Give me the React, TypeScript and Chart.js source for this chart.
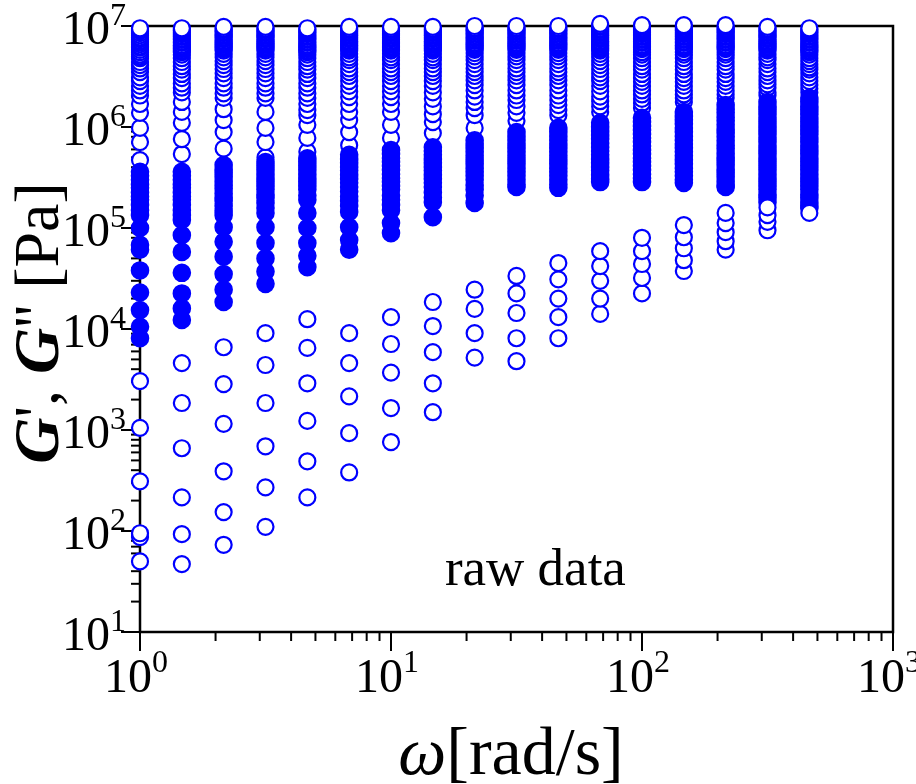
import React, { useEffect, useRef } from 'react';
import { Chart, registerables } from 'chart.js';

Chart.register(...registerables);

// angular frequency of each frequency-sweep column [rad/s]
const omega = [1, 1.468, 2.154, 3.162, 4.642, 6.813, 10, 14.68, 21.54, 31.62, 46.42, 68.13, 100, 146.8, 215.4, 316.2, 464.2];

// G' (open circles), upper branch, one list per omega column [Pa]
const storageHigh: number[][] = [
  [9.5e6, 9.2e6, 8.9e6, 8.5e6, 8.1e6, 7.7e6, 7.4e6, 7.1e6, 6.9e6, 6.6e6, 6.3e6, 6.1e6, 5.8e6, 5.5e6, 5.2e6, 5.0e6, 4.8e6, 4.4e6, 4.1e6, 3.8e6, 3.5e6, 3.1e6, 2.85e6, 2.55e6, 2.3e6, 2.05e6, 1.69e6, 1.38e6, 9.8e5, 7.1e5, 4.7e5],
  [9.5e6, 9.2e6, 8.9e6, 8.6e6, 8.3e6, 8.0e6, 7.8e6, 7.5e6, 7.3e6, 7.0e6, 6.8e6, 6.5e6, 6.3e6, 6.1e6, 5.9e6, 5.7e6, 5.5e6, 5.2e6, 4.8e6, 4.4e6, 4.0e6, 3.7e6, 3.35e6, 3.05e6, 2.7e6, 2.45e6, 2.2e6, 1.77e6, 1.41e6, 1.1e6, 7.6e5, 5.4e5],
  [9.8e6, 9.4e6, 9.1e6, 8.8e6, 8.5e6, 8.2e6, 8.0e6, 7.7e6, 7.4e6, 7.1e6, 6.9e6, 6.7e6, 6.5e6, 6.3e6, 6.1e6, 5.9e6, 5.7e6, 5.3e6, 4.9e6, 4.5e6, 4.1e6, 3.75e6, 3.4e6, 3.05e6, 2.7e6, 2.45e6, 2.15e6, 1.94e6, 1.5e6, 1.17e6, 8.9e5, 6.1e5],
  [9.8e6, 9.4e6, 9.1e6, 8.8e6, 8.5e6, 8.2e6, 8.0e6, 7.7e6, 7.4e6, 7.1e6, 6.9e6, 6.7e6, 6.5e6, 6.3e6, 6.1e6, 5.9e6, 5.7e6, 5.3e6, 4.9e6, 4.5e6, 4.1e6, 3.75e6, 3.4e6, 3.05e6, 2.7e6, 2.45e6, 2.15e6, 1.94e6, 1.41e6, 9.8e5, 7.1e5, 5.0e5],
  [9.5e6, 9.2e6, 8.9e6, 8.6e6, 8.3e6, 8.0e6, 7.8e6, 7.5e6, 7.3e6, 7.0e6, 6.8e6, 6.5e6, 6.3e6, 6.1e6, 5.9e6, 5.7e6, 5.5e6, 5.2e6, 4.8e6, 4.4e6, 4.0e6, 3.7e6, 3.35e6, 3.05e6, 2.7e6, 2.45e6, 2.15e6, 1.94e6, 1.69e6, 1.47e6, 1.31e6, 1.05e6, 7.8e5, 5.7e5],
  [9.8e6, 9.4e6, 9.1e6, 8.8e6, 8.5e6, 8.2e6, 8.0e6, 7.7e6, 7.4e6, 7.1e6, 6.9e6, 6.7e6, 6.5e6, 6.3e6, 6.1e6, 5.9e6, 5.7e6, 5.3e6, 4.9e6, 4.6e6, 4.2e6, 3.8e6, 3.5e6, 3.2e6, 2.85e6, 2.55e6, 2.25e6, 1.98e6, 1.69e6, 1.41e6, 1.17e6, 8.9e5, 6.6e5],
  [9.8e6, 9.4e6, 9.1e6, 8.8e6, 8.5e6, 8.2e6, 8.0e6, 7.7e6, 7.4e6, 7.1e6, 6.9e6, 6.7e6, 6.5e6, 6.3e6, 6.1e6, 5.9e6, 5.7e6, 5.3e6, 4.9e6, 4.6e6, 4.2e6, 3.8e6, 3.5e6, 3.2e6, 2.85e6, 2.55e6, 2.25e6, 1.98e6, 1.69e6, 1.41e6, 1.05e6, 7.8e5],
  [9.8e6, 9.4e6, 9.1e6, 8.8e6, 8.5e6, 8.2e6, 8.0e6, 7.7e6, 7.4e6, 7.1e6, 6.9e6, 6.7e6, 6.5e6, 6.3e6, 6.1e6, 5.9e6, 5.7e6, 5.3e6, 4.9e6, 4.6e6, 4.2e6, 3.8e6, 3.5e6, 3.2e6, 2.85e6, 2.55e6, 2.2e6, 1.9e6, 1.6e6, 1.34e6, 1.12e6, 8.7e5],
  [1.0e7, 9.6e6, 9.3e6, 9.0e6, 8.7e6, 8.4e6, 8.1e6, 7.8e6, 7.6e6, 7.3e6, 7.1e6, 6.8e6, 6.6e6, 6.4e6, 6.2e6, 6.0e6, 5.8e6, 5.4e6, 5.0e6, 4.6e6, 4.2e6, 3.8e6, 3.5e6, 3.2e6, 2.9e6, 2.6e6, 2.3e6, 2.0e6, 1.77e6, 1.54e6, 1.31e6, 9.8e5],
  [1.0e7, 9.6e6, 9.3e6, 9.0e6, 8.7e6, 8.4e6, 8.1e6, 7.8e6, 7.6e6, 7.3e6, 7.1e6, 6.8e6, 6.6e6, 6.4e6, 6.2e6, 6.0e6, 5.8e6, 5.4e6, 5.0e6, 4.6e6, 4.2e6, 3.8e6, 3.5e6, 3.2e6, 2.9e6, 2.6e6, 2.3e6, 2.05e6, 1.85e6, 1.6e6, 1.38e6, 1.15e6],
  [1.0e7, 9.6e6, 9.3e6, 9.0e6, 8.7e6, 8.4e6, 8.1e6, 7.8e6, 7.6e6, 7.3e6, 7.1e6, 6.8e6, 6.6e6, 6.4e6, 6.2e6, 6.0e6, 5.8e6, 5.4e6, 5.0e6, 4.6e6, 4.2e6, 3.8e6, 3.5e6, 3.2e6, 2.9e6, 2.6e6, 2.3e6, 2.05e6, 1.85e6, 1.65e6, 1.47e6, 1.31e6],
  [1.05e7, 1.01e7, 9.8e6, 9.4e6, 9.1e6, 8.8e6, 8.5e6, 8.2e6, 8.0e6, 7.7e6, 7.4e6, 7.1e6, 6.9e6, 6.7e6, 6.5e6, 6.3e6, 6.1e6, 5.9e6, 5.7e6, 5.3e6, 4.9e6, 4.5e6, 4.1e6, 3.75e6, 3.4e6, 3.1e6, 2.85e6, 2.55e6, 2.25e6, 2.0e6, 1.8e6, 1.6e6, 1.41e6],
  [1.02e7, 9.8e6, 9.5e6, 9.2e6, 8.9e6, 8.6e6, 8.3e6, 8.0e6, 7.8e6, 7.5e6, 7.3e6, 7.0e6, 6.8e6, 6.5e6, 6.3e6, 6.1e6, 5.9e6, 5.5e6, 5.2e6, 4.8e6, 4.4e6, 4.0e6, 3.7e6, 3.35e6, 3.05e6, 2.8e6, 2.55e6, 2.3e6, 2.1e6, 1.9e6, 1.73e6, 1.54e6],
  [1.02e7, 9.8e6, 9.5e6, 9.2e6, 8.9e6, 8.6e6, 8.3e6, 8.0e6, 7.8e6, 7.5e6, 7.3e6, 7.0e6, 6.8e6, 6.5e6, 6.3e6, 6.1e6, 5.9e6, 5.5e6, 5.2e6, 4.8e6, 4.4e6, 4.0e6, 3.7e6, 3.35e6, 3.05e6, 2.8e6, 2.55e6, 2.3e6, 2.1e6, 1.94e6, 1.77e6],
  [1.02e7, 9.8e6, 9.5e6, 9.2e6, 8.9e6, 8.6e6, 8.3e6, 8.0e6, 7.8e6, 7.5e6, 7.3e6, 7.0e6, 6.8e6, 6.5e6, 6.3e6, 6.1e6, 5.9e6, 5.5e6, 5.2e6, 4.8e6, 4.4e6, 4.0e6, 3.7e6, 3.35e6, 3.05e6, 2.8e6, 2.55e6, 2.3e6, 2.1e6, 1.94e6],
  [9.8e6, 9.4e6, 9.1e6, 8.8e6, 8.5e6, 8.2e6, 8.0e6, 7.7e6, 7.4e6, 7.1e6, 6.9e6, 6.7e6, 6.5e6, 6.3e6, 6.1e6, 5.9e6, 5.7e6, 5.3e6, 4.9e6, 4.6e6, 4.2e6, 3.8e6, 3.5e6, 3.2e6, 2.9e6, 2.65e6, 2.45e6, 2.2e6, 2.05e6],
  [9.5e6, 9.2e6, 8.9e6, 8.6e6, 8.3e6, 8.0e6, 7.8e6, 7.5e6, 7.3e6, 7.0e6, 6.8e6, 6.5e6, 6.3e6, 6.1e6, 5.9e6, 5.7e6, 5.5e6, 5.2e6, 4.8e6, 4.5e6, 4.2e6, 3.9e6, 3.7e6, 3.4e6, 3.1e6, 2.85e6, 2.6e6, 2.4e6, 2.2e6],
];

// G'' (filled circles), one list per omega column [Pa]
const lossModulus: number[][] = [
  [3.6e5, 3.3e5, 3.0e5, 2.7e5, 2.5e5, 2.25e5, 2.05e5, 1.9e5, 1.69e5, 1.5e5, 1.34e5, 1.0e5, 6.8e4, 6.1e4, 3.8e4, 2.3e4, 1.54e4, 1.05e4, 8.1e3],
  [3.6e5, 3.3e5, 3.0e5, 2.7e5, 2.5e5, 2.25e5, 2.05e5, 1.9e5, 1.69e5, 1.5e5, 1.34e5, 1.2e5, 8.5e4, 5.8e4, 3.6e4, 2.25e4, 1.6e4, 1.23e4],
  [4.2e5, 3.8e5, 3.5e5, 3.2e5, 2.9e5, 2.65e5, 2.45e5, 2.2e5, 2.0e5, 1.85e5, 1.65e5, 1.47e5, 1.34e5, 1.02e5, 7.3e4, 5.2e4, 3.5e4, 2.45e4, 1.85e4],
  [4.5e5, 4.1e5, 3.75e5, 3.4e5, 3.1e5, 2.85e5, 2.6e5, 2.4e5, 2.15e5, 1.98e5, 1.77e5, 1.58e5, 1.41e5, 1.02e5, 7.1e4, 5.0e4, 3.7e4, 2.8e4],
  [4.9e5, 4.5e5, 4.1e5, 3.75e5, 3.4e5, 3.1e5, 2.85e5, 2.6e5, 2.4e5, 2.1e5, 1.9e5, 1.41e5, 1.0e5, 7.1e4, 5.3e4, 4.1e4],
  [5.3e5, 4.8e5, 4.4e5, 4.0e5, 3.7e5, 3.35e5, 3.05e5, 2.8e5, 2.55e5, 2.3e5, 2.05e5, 1.85e5, 1.65e5, 1.44e5, 1.02e5, 7.6e4, 6.1e4],
  [5.9e5, 5.4e5, 4.9e5, 4.5e5, 4.1e5, 3.75e5, 3.4e5, 3.1e5, 2.85e5, 2.6e5, 2.4e5, 2.1e5, 1.9e5, 1.69e5, 1.5e5, 1.12e5, 8.9e4],
  [6.3e5, 5.8e5, 5.3e5, 4.8e5, 4.4e5, 4.0e5, 3.7e5, 3.35e5, 3.05e5, 2.8e5, 2.55e5, 2.25e5, 2.0e5, 1.8e5, 1.28e5],
  [7.4e5, 6.8e5, 6.2e5, 5.7e5, 5.2e5, 4.7e5, 4.3e5, 3.9e5, 3.6e5, 3.3e5, 3.0e5, 2.65e5, 2.4e5, 2.1e5, 1.77e5],
  [8.9e5, 8.1e5, 7.4e5, 6.8e5, 6.2e5, 5.7e5, 5.2e5, 4.7e5, 4.3e5, 3.9e5, 3.6e5, 3.3e5, 3.0e5, 2.7e5, 2.55e5],
  [9.8e5, 8.9e5, 8.1e5, 7.4e5, 6.8e5, 6.2e5, 5.7e5, 5.2e5, 4.7e5, 4.3e5, 3.9e5, 3.6e5, 3.3e5, 3.0e5, 2.7e5, 2.5e5],
  [1.1e6, 1.0e6, 9.1e5, 8.3e5, 7.6e5, 6.9e5, 6.3e5, 5.8e5, 5.3e5, 4.8e5, 4.4e5, 4.0e5, 3.7e5, 3.35e5, 3.05e5, 2.85e5],
  [1.23e6, 1.12e6, 1.02e6, 9.3e5, 8.5e5, 7.8e5, 7.1e5, 6.5e5, 5.9e5, 5.4e5, 4.9e5, 4.5e5, 4.1e5, 3.75e5, 3.4e5, 3.1e5, 2.85e5],
  [1.41e6, 1.28e6, 1.17e6, 1.07e6, 9.8e5, 8.9e5, 8.1e5, 7.4e5, 6.8e5, 6.2e5, 5.7e5, 5.2e5, 4.7e5, 4.3e5, 3.9e5, 3.6e5, 3.3e5, 3.0e5, 2.8e5],
  [1.65e6, 1.5e6, 1.38e6, 1.25e6, 1.15e6, 1.05e6, 9.5e5, 8.7e5, 8.0e5, 7.3e5, 6.6e5, 6.1e5, 5.5e5, 5.0e5, 4.6e5, 4.2e5, 3.8e5, 3.5e5, 3.2e5, 2.9e5, 2.65e5, 2.55e5],
  [1.77e6, 1.6e6, 1.47e6, 1.34e6, 1.23e6, 1.12e6, 1.02e6, 9.3e5, 8.5e5, 7.8e5, 7.1e5, 6.5e5, 5.9e5, 5.4e5, 4.9e5, 4.5e5, 4.1e5, 3.75e5, 3.4e5, 3.1e5, 2.85e5, 2.6e5, 2.4e5, 2.15e5, 1.98e5, 1.8e5],
  [1.94e6, 1.77e6, 1.6e6, 1.47e6, 1.34e6, 1.23e6, 1.12e6, 1.02e6, 9.3e5, 8.5e5, 7.8e5, 7.1e5, 6.5e5, 5.9e5, 5.4e5, 4.9e5, 4.5e5, 4.1e5, 3.75e5, 3.4e5, 3.1e5, 2.85e5, 2.6e5, 2.4e5, 2.15e5, 1.98e5, 1.8e5, 1.65e5, 1.58e5],
];

// G' (open circles), lower branch, one list per omega column [Pa]
const storageLow: number[][] = [
  [3.05e3, 1.05e3, 3.1e2, 95, 87, 50],
  [4.6e3, 1.85e3, 6.6e2, 2.15e2, 93, 47],
  [6.6e3, 2.85e3, 1.15e3, 3.9e2, 1.54e2, 73],
  [9.1e3, 4.4e3, 1.85e3, 6.9e2, 2.7e2, 1.1e2],
  [1.25e4, 6.5e3, 2.9e3, 1.23e3, 4.9e2, 2.15e2],
  [9.1e3, 4.6e3, 2.15e3, 9.3e2, 3.8e2],
  [1.31e4, 7.1e3, 3.7e3, 1.65e3, 7.6e2],
  [1.85e4, 1.07e4, 5.9e3, 2.9e3, 1.5e3],
  [2.45e4, 1.58e4, 9.1e3, 5.2e3],
  [3.35e4, 2.25e4, 1.44e4, 8.1e3, 4.8e3],
  [4.5e4, 3.1e4, 2.0e4, 1.31e4, 8.1e3],
  [5.9e4, 4.2e4, 3.0e4, 2.0e4, 1.41e4],
  [8.0e4, 5.9e4, 4.4e4, 3.2e4, 2.25e4],
  [1.07e5, 8.1e4, 6.3e4, 4.8e4, 3.75e4],
  [1.41e5, 1.12e5, 9.1e4, 7.4e4, 6.1e4],
  [1.6e5, 1.34e5, 1.15e5, 9.5e4],
  [1.41e5],
];

// axis ticks
const xMajorTicks = [1, 10, 100, 1000];
const yMajorTicks = [10, 100, 1e3, 1e4, 1e5, 1e6, 1e7];
const minorMantissas = [2, 3, 4, 5, 6, 7, 8, 9];

// texts
const annotationText = 'raw data';
const annotationAt = { x: 16.4, y: 29 };

const SERIF = '"Liberation Serif", "Times New Roman", Times, serif';
const BLUE = '#0000ff';

function buildPoints(cols: number[][]) {
  const pts: { x: number; y: number }[] = [];
  cols.forEach((vals, i) => {
    // lower values first so higher values are drawn on top
    for (let k = vals.length - 1; k >= 0; k--) pts.push({ x: omega[i], y: vals[k] });
  });
  return pts;
}

function minorList(majors: number[]) {
  const out: number[] = [];
  for (let i = 0; i < majors.length - 1; i++) minorMantissas.forEach((m) => out.push(majors[i] * m));
  return out;
}

const TICK_FONT = 48;
const SUP_FONT = 32;
const TITLE_FONT = 64;
const XTITLE_FONT = 68;

const decorPlugin = {
  id: 'decor',
  beforeDatasetsDraw(chart: any) {
    const { ctx, chartArea } = chart;
    const { left, right, top, bottom } = chartArea;
    const xs = chart.scales.x;
    const ys = chart.scales.y;
    ctx.save();
    ctx.strokeStyle = '#000';
    ctx.lineCap = 'butt';
    ctx.lineWidth = 2;
    xMajorTicks.forEach((v) => {
      const px = xs.getPixelForValue(v);
      ctx.beginPath(); ctx.moveTo(px, bottom); ctx.lineTo(px, bottom + 19); ctx.stroke();
    });
    minorList(xMajorTicks).forEach((v) => {
      const px = xs.getPixelForValue(v);
      ctx.beginPath(); ctx.moveTo(px, bottom); ctx.lineTo(px, bottom + 9); ctx.stroke();
    });
    yMajorTicks.forEach((v) => {
      const py = ys.getPixelForValue(v);
      ctx.beginPath(); ctx.moveTo(left, py); ctx.lineTo(left - 19, py); ctx.stroke();
    });
    minorList(yMajorTicks).forEach((v) => {
      const py = ys.getPixelForValue(v);
      ctx.beginPath(); ctx.moveTo(left, py); ctx.lineTo(left - 9, py); ctx.stroke();
    });
    ctx.lineWidth = 2.5;
    ctx.strokeRect(left, top, right - left, bottom - top);
    ctx.restore();
  },
  afterDraw(chart: any) {
    const { ctx, chartArea } = chart;
    const { left, bottom, top } = chartArea;
    const xs = chart.scales.x;
    const ys = chart.scales.y;
    ctx.save();
    ctx.fillStyle = '#000';
    ctx.textBaseline = 'alphabetic';

    yMajorTicks.forEach((v) => {
      const py = ys.getPixelForValue(v);
      const exp = String(Math.round(Math.log10(v)));
      ctx.font = `${SUP_FONT}px ${SERIF}`;
      const supW = ctx.measureText(exp).width;
      ctx.textAlign = 'right';
      const rightEdge = left - 14;
      ctx.fillText(exp, rightEdge, py - 1);
      ctx.font = `${TICK_FONT}px ${SERIF}`;
      ctx.fillText('10', rightEdge - supW, py + 18);
    });

    xMajorTicks.forEach((v) => {
      const px = xs.getPixelForValue(v);
      const exp = String(Math.round(Math.log10(v)));
      ctx.font = `${TICK_FONT}px ${SERIF}`;
      const baseW = ctx.measureText('10').width;
      ctx.textAlign = 'left';
      const x0 = px - 12 - baseW / 2;
      ctx.fillText('10', x0, bottom + 60);
      ctx.font = `${SUP_FONT}px ${SERIF}`;
      ctx.fillText(exp, x0 + baseW, bottom + 40);
    });

    {
      const parts = [
        { t: '\u03c9', f: `italic ${XTITLE_FONT}px ${SERIF}` },
        { t: '[rad/s]', f: `${XTITLE_FONT}px ${SERIF}` },
      ];
      let total = 0;
      parts.forEach((p) => { ctx.font = p.f; total += ctx.measureText(p.t).width; });
      const cx = 511;
      let x = cx - total / 2;
      ctx.textAlign = 'left';
      parts.forEach((p) => { ctx.font = p.f; ctx.fillText(p.t, x, bottom + 142); x += ctx.measureText(p.t).width; });
    }

    {
      const parts = [
        { t: 'G', f: `italic bold ${TITLE_FONT}px ${SERIF}` },
        { t: "', ", f: `${TITLE_FONT}px ${SERIF}` },
        { t: 'G', f: `italic bold ${TITLE_FONT}px ${SERIF}` },
        { t: "'' [Pa]", f: `${TITLE_FONT}px ${SERIF}` },
      ];
      let total = 0;
      parts.forEach((p) => { ctx.font = p.f; total += ctx.measureText(p.t).width; });
      const cy = (top + bottom) / 2 - 6;
      ctx.translate(58, cy);
      ctx.rotate(-Math.PI / 2);
      let x = -total / 2;
      ctx.textAlign = 'left';
      parts.forEach((p) => { ctx.font = p.f; ctx.fillText(p.t, x, 0); x += ctx.measureText(p.t).width; });
      ctx.setTransform(1, 0, 0, 1, 0, 0);
    }

    ctx.font = `53px ${SERIF}`;
    ctx.textAlign = 'left';
    ctx.fillText(annotationText, xs.getPixelForValue(annotationAt.x), ys.getPixelForValue(annotationAt.y));
    ctx.restore();
  },
};

export default function App() {
  const canvasRef = useRef<HTMLCanvasElement | null>(null);

  useEffect(() => {
    const canvas = canvasRef.current;
    if (!canvas) return;
    const openStyle = {
      pointRadius: 8,
      pointBorderWidth: 2.2,
      pointBorderColor: BLUE,
      pointBackgroundColor: '#ffffff',
      showLine: false,
      clip: false as const,
    };
    const chart = new Chart(canvas, {
      type: 'scatter',
      data: {
        datasets: [
          { label: "G' low", data: buildPoints(storageLow), order: 0, ...openStyle },
          {
            label: "G''",
            data: buildPoints(lossModulus),
            order: 1,
            pointRadius: 8.3,
            pointBorderWidth: 2,
            pointBorderColor: BLUE,
            pointBackgroundColor: BLUE,
            showLine: false,
            clip: false as const,
          },
          { label: "G' high", data: buildPoints(storageHigh), order: 2, ...openStyle },
        ],
      },
      options: {
        responsive: false,
        animation: false,
        devicePixelRatio: 1,
        events: [],
        layout: { padding: { left: 0, right: 23, top: 26, bottom: 0 } },
        plugins: { legend: { display: false }, tooltip: { enabled: false }, title: { display: false } },
        scales: {
          x: {
            type: 'logarithmic',
            position: 'bottom',
            min: 1,
            max: 1000,
            grid: { display: false },
            border: { display: false },
            ticks: { display: false },
            afterFit(scale: any) { scale.height = 152; },
          },
          y: {
            type: 'logarithmic',
            position: 'left',
            min: 10,
            max: 1e7,
            grid: { display: false },
            border: { display: false },
            ticks: { display: false },
            afterFit(scale: any) { scale.width = 140; },
          },
        },
      },
      plugins: [decorPlugin],
    } as any);
    return () => chart.destroy();
  }, []);

  return (
    <div style={{ position: 'absolute', left: 0, top: 0, width: 916, height: 784, background: '#fff' }}>
      <canvas ref={canvasRef} width={916} height={784} style={{ display: 'block', width: 916, height: 784 }} />
    </div>
  );
}
